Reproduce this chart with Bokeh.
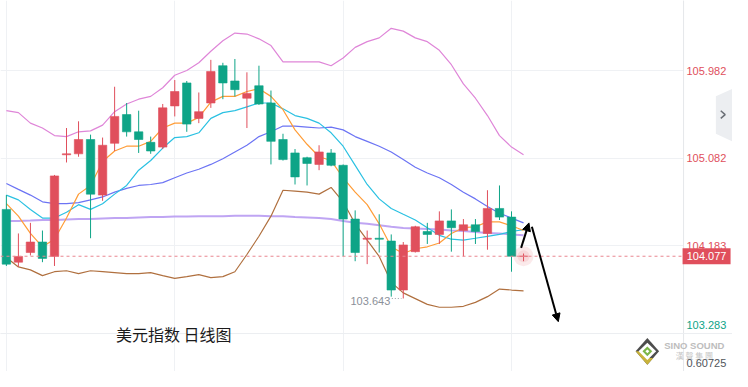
from bokeh.plotting import figure
from bokeh.models import ColumnDataSource, Range1d, Grid, FixedTicker, Arrow, NormalHead
from bokeh.core.properties import value
from bokeh.embed import file_html
from bokeh.resources import INLINE

# ---------------- data ----------------
opens = [104.558, 104.016, 104.115, 104.223, 104.075, 105.119, 105.129, 105.276, 104.705, 105.237,
         105.532, 105.355, 105.247, 105.198, 105.621, 105.857, 105.493, 105.651, 106.034, 105.877,
         105.700, 105.828, 105.651, 105.276, 105.138, 105.089, 105.020, 105.138, 105.011, 104.459,
         104.252, 104.262, 104.233, 103.730, 104.124, 104.331, 104.301, 104.440, 104.341, 104.400,
         104.311, 104.568, 104.479, 104.077]
highs = [104.705, 104.311, 104.420, 104.341, 104.912, 105.394, 105.463, 105.326, 105.296, 105.818,
         105.651, 105.572, 105.306, 105.641, 105.887, 105.877, 105.759, 106.094, 106.064, 106.103,
         105.966, 106.034, 105.779, 105.335, 105.178, 105.099, 105.217, 105.178, 105.020, 104.548,
         104.341, 104.508, 104.301, 104.223, 104.390, 104.420, 104.538, 104.558, 104.459, 104.459,
         104.755, 104.804, 104.538, 104.105]
lows = [103.977, 103.967, 104.085, 104.016, 103.977, 105.040, 105.099, 104.262, 104.646, 105.158,
        105.306, 105.138, 105.129, 105.178, 105.513, 105.355, 105.444, 105.601, 105.690, 105.719,
        105.394, 105.631, 105.020, 105.060, 104.814, 104.804, 104.961, 105.001, 104.075, 104.026,
        103.996, 104.115, 103.662, 103.643, 104.115, 104.203, 104.203, 104.124, 104.075, 104.203,
        104.144, 104.449, 103.918, 104.026]
closes = [103.996, 104.075, 104.223, 104.055, 104.902, 105.129, 105.276, 104.715, 105.217, 105.513,
          105.355, 105.276, 105.158, 105.601, 105.769, 105.434, 105.562, 105.975, 105.857, 105.788,
          105.749, 105.641, 105.257, 105.070, 104.892, 105.030, 105.148, 105.011, 104.459, 104.115,
          104.262, 104.252, 103.730, 104.193, 104.380, 104.301, 104.440, 104.370, 104.400, 104.331,
          104.568, 104.479, 104.077, 104.077]

ma5 = [104.617, 104.489, 104.311, 104.174, 104.252, 104.469, 104.715, 104.804, 105.050, 105.158,
       105.207, 105.207, 105.257, 105.394, 105.444, 105.444, 105.503, 105.660, 105.719, 105.719,
       105.769, 105.798, 105.719, 105.582, 105.375, 105.227, 105.099, 105.060, 104.883, 104.735,
       104.607, 104.410, 104.174, 104.105, 104.154, 104.174, 104.213, 104.311, 104.370, 104.380,
       104.430, 104.430, 104.390, 104.341]
ma10 = [104.705, 104.656, 104.558, 104.469, 104.469, 104.528, 104.607, 104.558, 104.617, 104.715,
        104.804, 104.961, 105.060, 105.188, 105.296, 105.306, 105.345, 105.493, 105.552, 105.572,
        105.611, 105.651, 105.651, 105.591, 105.522, 105.493, 105.444, 105.345, 105.207, 105.011,
        104.814, 104.666, 104.568, 104.508, 104.449, 104.370, 104.292, 104.252, 104.243, 104.262,
        104.282, 104.301, 104.331, 104.351]
ma20 = [104.824, 104.764, 104.705, 104.636, 104.617, 104.617, 104.627, 104.656, 104.686, 104.735,
        104.774, 104.804, 104.814, 104.833, 104.883, 104.932, 104.971, 105.020, 105.079, 105.148,
        105.217, 105.306, 105.355, 105.414, 105.414, 105.404, 105.394, 105.404, 105.375, 105.306,
        105.257, 105.207, 105.148, 105.070, 104.991, 104.932, 104.883, 104.814, 104.735, 104.666,
        104.587, 104.518, 104.469, 104.420]
ma60 = [104.440, 104.440, 104.444, 104.449, 104.449, 104.454, 104.459, 104.459, 104.464, 104.469,
        104.469, 104.474, 104.479, 104.479, 104.484, 104.484, 104.489, 104.489, 104.489, 104.494,
        104.494, 104.494, 104.489, 104.489, 104.479, 104.474, 104.469, 104.459, 104.440, 104.420,
        104.410, 104.395, 104.380, 104.366, 104.361, 104.356, 104.351, 104.341, 104.336, 104.326,
        104.316, 104.311, 104.301, 104.292]
boll_upper = [105.572, 105.552, 105.444, 105.394, 105.316, 105.306, 105.355, 105.365, 105.424, 105.562,
              105.641, 105.690, 105.719, 105.808, 105.936, 105.985, 106.064, 106.182, 106.291, 106.369,
              106.359, 106.310, 106.241, 106.074, 106.074, 106.074, 106.074, 106.034, 106.113, 106.222,
              106.281, 106.320, 106.418, 106.389, 106.320, 106.281, 106.192, 106.044, 105.847, 105.700,
              105.522, 105.316, 105.198, 105.119]
boll_lower = [104.065, 103.967, 103.937, 103.878, 103.918, 103.928, 103.898, 103.928, 103.918, 103.908,
              103.898, 103.898, 103.908, 103.878, 103.849, 103.868, 103.888, 103.858, 103.868, 103.918,
              104.095, 104.282, 104.489, 104.755, 104.745, 104.735, 104.715, 104.784, 104.636, 104.410,
              104.243, 104.075, 103.809, 103.701, 103.642, 103.583, 103.553, 103.553, 103.563, 103.603,
              103.662, 103.740, 103.730, 103.721]

price_ticks = [105.982, 105.082, 104.183, 103.283]
last_price = 104.077
sub_value = "0.60725"
title = "美元指数 日线图"
vgrid_ticks = [0, 14, 28, 42]

# ---------------- colours ----------------
RED = "#e04f5c"
GREEN = "#0ea487"

# ---------------- geometry helpers (reference pixel -> data) ----------------
def px2x(px):
    return (px - 6.0) / 12.29

def py2y(py):
    return 105.982 - (py - 73.3) / 101.56

W, H = 732, 371
p = figure(width=W, height=H, output_backend="svg", toolbar_location=None,
           x_range=Range1d(px2x(0), px2x(748)), y_range=Range1d(py2y(387), py2y(0)),
           x_axis_type=None, y_axis_type=None, min_border=0, outline_line_color=None,
           background_fill_color="white", border_fill_color="white")

p.add_layout(Grid(dimension=0, ticker=FixedTicker(ticks=vgrid_ticks), grid_line_color="#eff1f4"))
p.add_layout(Grid(dimension=1, ticker=FixedTicker(ticks=price_ticks), grid_line_color="#eff1f4"))

idx = list(range(len(opens)))

# indicator lines
p.line(idx, ma60, line_color="#b89bf2", line_width=2, line_alpha=0.9)
p.line(idx, boll_upper, line_color="#df86d8", line_width=1.2)
p.line(idx, boll_lower, line_color="#b0703f", line_width=1.2)
p.line(idx, ma20, line_color="#6c74f4", line_width=1.2)
p.line(idx, ma10, line_color="#2bc1e2", line_width=1.2)
p.line(idx, ma5, line_color="#ff9d38", line_width=1.2)

# candles
cols = [RED if c >= o else GREEN for o, c in zip(opens, closes)]
src = ColumnDataSource(dict(x=idx, h=highs, l=lows,
                            top=[max(o, c) for o, c in zip(opens, closes)],
                            bottom=[min(o, c) for o, c in zip(opens, closes)],
                            color=cols))
p.segment(x0="x", y0="h", x1="x", y1="l", source=src, line_color="color", line_width=1)
p.vbar(x="x", width=0.7, top="top", bottom="bottom", source=src,
       fill_color="color", line_color="color", line_width=0.6)

# glow on current candle
last_i = len(opens) - 1
p.scatter([last_i], [last_price], size=20, fill_color=RED, fill_alpha=0.12, line_color=None)
p.scatter([last_i], [last_price], size=12, fill_color=RED, fill_alpha=0.12, line_color=None)

# current price dashed line
p.segment(x0=[px2x(0)], y0=[last_price], x1=[px2x(698)], y1=[last_price],
          line_color="#e98790", line_width=1, line_dash="3 3")

# lowest-low label
low_i = lows.index(min(lows))
p.segment(x0=[low_i - 0.95], y0=[lows[low_i]], x1=[low_i - 0.15], y1=[lows[low_i]],
          line_color="#9aa0a8", line_width=1, line_dash="1 2")
p.text(x=[low_i], y=[lows[low_i]], text=[f"{lows[low_i]:.3f}"], x_offset=-13, y_offset=3,
       text_align="right", text_baseline="middle", text_color="#8b9099",
       text_font=value("Liberation Sans"), text_font_size="11px")

# arrows
arrow_up = (px2x(532), py2y(258), px2x(540), py2y(232))
arrow_down = (px2x(543), py2y(236), px2x(570), py2y(335))
for a in (arrow_up, arrow_down):
    p.add_layout(Arrow(end=NormalHead(size=8, fill_color="black", line_color="black"),
                       x_start=a[0], y_start=a[1], x_end=a[2], y_end=a[3],
                       line_color="black", line_width=2))

# right price-axis column
p.quad(left=[px2x(698)], right=[px2x(800)], bottom=[py2y(500)], top=[py2y(-50)],
       fill_color="white", line_color=None)
p.segment(x0=[px2x(698)], y0=[py2y(-50)], x1=[px2x(698)], y1=[py2y(500)],
          line_color="#e5e7ea", line_width=1)
p.segment(x0=[px2x(-20)], y0=[price_ticks[-1]], x1=[px2x(800)], y1=[price_ticks[-1]],
          line_color="#eceef1", line_width=1)

# collapse tab
tab_x = [px2x(v) for v in (731, 748, 748, 731)]
tab_y = [py2y(v) for v in (100, 92, 147, 139)]
p.patch(tab_x, tab_y, fill_color="#eceef1", line_color=None)
p.line([px2x(736), px2x(740.5), px2x(736)], [py2y(115), py2y(119), py2y(123)],
       line_color="#6b6f76", line_width=1.5)

tick_src = ColumnDataSource(dict(
    x=[px2x(701)] * len(price_ticks), y=price_ticks,
    text=[f"{t:.3f}" for t in price_ticks],
    color=[RED if t > last_price else GREEN for t in price_ticks],
    yoff=[0 if t > price_ticks[-1] else -9 for t in price_ticks]))
p.text(x="x", y="y", text="text", source=tick_src, text_color="color", y_offset="yoff",
       text_align="left", text_baseline="middle",
       text_font=value("Liberation Sans"), text_font_size="11px")

# last price tag
p.rect(x=[px2x(721.5)], y=[last_price], width=48, height=16, width_units="screen",
       height_units="screen", fill_color=RED, line_color=None)
p.text(x=[px2x(721.5)], y=[last_price], text=[f"{last_price:.3f}"], text_color="white",
       text_align="center", text_baseline="middle",
       text_font=value("Liberation Sans"), text_font_size="11px")

# title
p.text(x=[px2x(118)], y=[py2y(347.5)], text=[title], text_align="left", text_baseline="middle",
       text_color="#1b1b1b", text_font=value("Noto Sans CJK SC"), text_font_size="16px")

# logo
def poly(pts):
    return [px2x(a) for a, b in pts], [py2y(b) for a, b in pts]

for pts, col in [
    ([(661, 352), (673, 366), (661, 380), (649, 366)], "#4d4d4d"),
    ([(649, 366), (655, 366), (661, 373), (667, 373), (661, 380)], "#c9b33b"),
    ([(661, 357), (670, 366), (661, 375), (652, 366)], "#ffffff"),
    ([(661, 361), (666, 366), (661, 371), (656, 366)], "#7cb648"),
    ([(661, 364), (663, 366), (661, 368), (659, 366)], "#ffffff"),
]:
    xs, ys = poly(pts)
    p.patch(xs, ys, fill_color=col, line_color=None)

p.text(x=[px2x(709)], y=[py2y(360)], text=["SINO SOUND"], text_align="center",
       text_baseline="middle", text_color="#bdbdbd", text_font_style="bold",
       text_font=value("Liberation Sans"), text_font_size="9.5px")
p.text(x=[px2x(709)], y=[py2y(370.5)], text=["漢 聲 集 團"], text_align="center",
       text_baseline="middle", text_color="#c6c6c6",
       text_font=value("Noto Sans CJK TC"), text_font_size="8px")
p.text(x=[px2x(701)], y=[py2y(378)], text=[sub_value], text_align="left",
       text_baseline="middle", text_color="#50545a",
       text_font=value("Liberation Sans"), text_font_size="11px")

open("out.html", "w").write(file_html(p, INLINE))
